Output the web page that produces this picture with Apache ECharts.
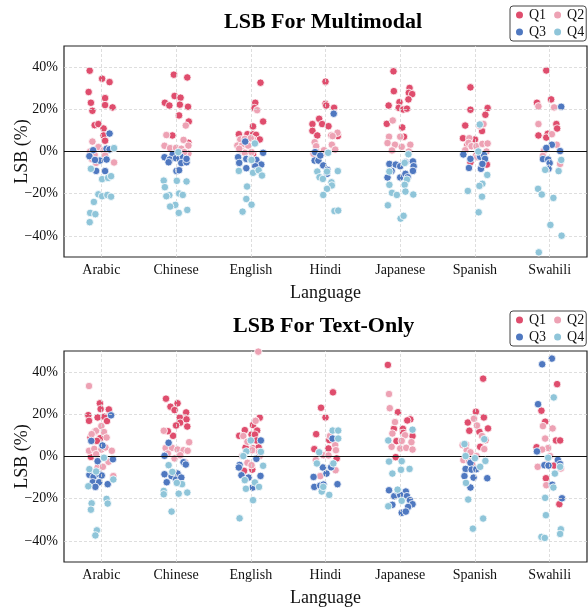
<!DOCTYPE html>
<html>
<head>
<meta charset="utf-8">
<script src="https://cdn.jsdelivr.net/npm/echarts@6/dist/echarts.min.js"></script>
<style>html,body{margin:0;padding:0;background:#fff}#chart{width:588px;height:608px}</style>
</head>
<body>
<div id="chart"></div>
<script>
const languages = ['Arabic','Chinese','English','Hindi','Japanese','Spanish','Swahili'];
const quarters = ['Q1','Q2','Q3','Q4'];
const yTicks = [-40,-20,0,20,40];
const titles = ['LSB For Multimodal','LSB For Text-Only'];

// Each list: one inner list per language, points as [jitter, value %]
const mmQ1 = [
 [[-0.156,38.3],[0.01,34.5],[0.11,32.9],[-0.17,28.2],[0.05,25.3],[-0.14,23.1],[0.05,22.0],[0.15,20.9],[-0.12,19.3],[-0.09,12.5],[-0.04,13.0],[0.03,10.9],[0.03,7.6],[0.05,5.1]],
 [[-0.03,36.4],[0.15,35.1],[-0.15,23.1],[-0.09,21.8],[-0.02,26.3],[0.06,25.5],[0.05,22.2],[0.16,21.2],[0.04,17.1],[0.17,14.2],[-0.05,7.6],[0.165,4.1]],
 [[0.13,32.6],[0.06,23.1],[0.05,20.6],[0.165,14.2],[0.03,11.9],[-0.16,8.2],[-0.045,8.2],[0.03,8.2],[0.07,7.9],[0.12,5.7],[0.03,-1.3]],
 [[0,33.1],[0,22.6],[0.01,21.8],[0.115,20.7],[-0.085,15.5],[-0.175,13],[-0.045,13],[0.04,12],[-0.175,9.8],[-0.11,7.6],[0.08,7.6],[0.165,7.3]],
 [[-0.09,38],[-0.085,28.6],[0.125,30.1],[0.115,27.8],[0.16,27.2],[0.11,24.7],[-0.155,21.8],[-0.01,23.4],[-0.02,20.7],[0.04,19.9],[0.09,20.3],[-0.18,13.1],[0.027,11.4],[0.05,7]],
 [[-0.06,30.4],[-0.06,19.8],[0.17,20.6],[0.14,17.4],[-0.13,12.3],[0.095,9.7],[-0.16,6.3],[0,5.7],[-0.1,3.2],[-0.06,-5.1],[0.16,-6.2],[0.02,-1.9]],
 [[-0.045,38.4],[-0.17,23.1],[0.02,24.7],[0.09,13],[0.1,10.9],[-0.025,8.4],[-0.15,7.6],[-0.045,6.6]]
];
const mmQ2 = [
 [[-0.12,4.7],[-0.04,2.1],[-0.15,0],[0.03,0.6],[-0.09,-1.6],[-0.07,-5.4],[0.17,-5.2],[-0.13,-3.5],[0.05,-1.9]],
 [[-0.13,7.8],[0.13,12.3],[0.1,5.5],[-0.155,2.7],[-0.08,1.6],[0,1.7],[0.07,1.3],[0.165,2.8],[0.165,-1],[0.11,-0.3],[-0.06,-3]],
 [[0.085,19.6],[0.03,5.7],[-0.14,5.7],[-0.08,6],[0,6.3],[-0.18,2.8],[-0.12,2.8],[-0.035,2.8],[-0.13,0.5],[-0.08,-0.6],[0.01,-0.3],[-0.155,1.3]],
 [[0.16,8.9],[0.095,7.3],[0.085,3.2],[-0.145,4.4],[-0.125,2.5],[0.13,0.9],[-0.115,-0.3],[-0.05,-1.1],[-0.16,-1.1],[-0.02,0.6]],
 [[-0.1,14.7],[-0.15,7],[0,7],[-0.17,4],[-0.07,3.2],[0.02,2.2],[0.135,3.2],[-0.11,0.5],[0.115,0]],
 [[0.06,12.2],[0.115,13],[-0.075,6.3],[-0.085,4.1],[-0.045,2.5],[0.02,2.5],[0.1,3.6],[0.17,3.8],[-0.13,0.6],[0.03,-2.7],[0.155,0]],
 [[-0.15,21.4],[0.06,20.9],[-0.15,13],[0.03,8.2],[0.095,3.2],[-0.075,0.3],[-0.09,-2.1],[0.14,-5.9]]
];
const mmQ3 = [
 [[0.11,8.5],[-0.11,0.6],[0.07,1.3],[0.11,1.0],[-0.02,-4.3],[0.07,-3.8],[-0.07,-9.2],[0.05,-9.3],[-0.16,-2.2],[-0.085,-4]],
 [[-0.155,-2.7],[-0.045,-1.3],[0.06,-2.4],[-0.085,-3.8],[0,-3.2],[0.07,-5.5],[0.14,-5.1],[0.14,-3.5],[0.005,-9.2],[0.04,-8.9],[-0.1,-5.1]],
 [[-0.075,4.7],[-0.17,-2.7],[-0.155,-5.4],[-0.06,-3.5],[0,-3.8],[0.075,-4],[0.165,-0.6],[0.14,-6.2],[-0.06,-7.9],[0.06,-7]],
 [[0.11,17.9],[-0.14,-0.3],[-0.145,-4.3],[-0.095,-4.3],[-0.03,-6.6],[0.025,-8.7],[0.02,-10.6],[-0.07,-1.9]],
 [[-0.145,-5.9],[-0.06,-6.2],[0,-7],[0.07,-5.1],[0.17,-4.7],[0.18,-7],[0.17,-9.2],[-0.115,-9.2],[-0.17,-12.3],[0,-12.3],[0.07,-10.6],[0.1,-12.2]],
 [[-0.155,-1.4],[-0.06,-3.5],[0.07,-2.5],[0.12,-1.6],[0.135,-3.5],[-0.08,-7.8],[0.08,-8.2],[0.1,-5.9]],
 [[0.155,21.2],[0.03,3.2],[-0.045,1.7],[0.14,0.2],[-0.09,-3.6],[-0.02,-3.8],[0,-5.5],[-0.015,-8.2]]
];
const mmQ4 = [
 [[0.17,1.6],[-0.14,-8.2],[0.01,-13.1],[0.09,-12.5],[0.13,-11.7],[-0.04,-20.3],[0.01,-21.2],[0.08,-20.6],[0.13,-21.4],[-0.1,-23.9],[-0.15,-29.1],[-0.08,-29.7],[-0.156,-33.5]],
 [[0.03,-0.3],[-0.165,-13.8],[-0.15,-16.9],[0.01,-13.9],[0.14,-14.2],[0.04,-19.9],[0.09,-20.6],[-0.09,-20.7],[-0.13,-21.2],[-0.01,-25.3],[-0.08,-26.1],[0.036,-29.1],[0.15,-27.7]],
 [[0.055,3.8],[0.01,-4],[-0.16,-9.2],[0.055,-9.5],[0.03,-10.1],[0.105,-8.9],[0.15,-11.4],[-0.05,-16.6],[-0.06,-22.5],[0.01,-25.2],[-0.11,-28.5]],
 [[0.035,-0.6],[-0.11,-9.5],[0.02,-9.5],[0.165,-9.3],[-0.08,-12.2],[-0.035,-13],[0.08,-14.6],[0.085,-16.1],[0.02,-17.7],[-0.03,-20.6],[0.12,-28.2],[0.17,-28]],
 [[0.11,-1.3],[0.06,-5.4],[-0.145,-9.5],[0.09,-13.3],[-0.145,-15.8],[0.06,-15.8],[-0.11,-19.6],[-0.045,-20.6],[0.07,-19],[0.175,-20.4],[-0.165,-25.5],[0.005,-31.8],[0.045,-30.5]],
 [[0.065,12.8],[0.045,0],[0.165,-11.1],[0.1,-15.3],[0.06,-16.3],[0.095,-21.4],[-0.095,-18.7],[0.05,-28.8]],
 [[0.155,-4],[-0.06,-8.7],[0.12,-9.3],[-0.155,-17.7],[-0.105,-20.4],[0.05,-22],[0.01,-34.8],[0.16,-39.9],[-0.145,-47.8]]
];
const txQ1 = [
 [[-0.02,25.2],[-0.175,19.6],[-0.165,16.9],[-0.01,22.5],[0.1,22.3],[-0.05,18.5],[0.04,18.8],[0.075,16.8],[-0.085,11.7],[-0.145,9],[-0.015,8.7],[-0.06,7.4],[-0.14,-0.2]],
 [[-0.135,27.4],[0.02,25.2],[-0.075,23.6],[-0.02,22],[0.135,20.9],[0.05,18.5],[0.055,16],[0.14,17.6],[0,14.7],[0.15,14.2],[-0.04,9.8],[-0.11,12]],
 [[0.12,18.4],[0.03,14.9],[0.085,12.3],[-0.08,12.5],[-0.155,9.8],[0.01,10.4],[0.055,10.4],[-0.07,4.3],[0.03,3.8],[0.105,4.3],[0.075,7.6],[0.02,-6.2],[-0.09,-6.8]],
 [[0.1,30.4],[-0.06,23.1],[0,18.5],[-0.125,10.6],[-0.15,3.5],[0.05,7.8],[0.15,-0.9],[0.04,3.8]],
 [[-0.165,43.4],[-0.03,21],[0.135,17.6],[-0.085,13.1],[0.035,13.1],[-0.05,7.3],[0.04,11.2],[0.165,9.7],[-0.06,-0.3],[0.095,17.1]],
 [[0.11,36.9],[0.013,21.2],[0.12,18.5],[-0.095,16.1],[0.175,13.3],[-0.075,12.2],[0.06,11.7],[0.07,4.6],[0.14,7.8],[-0.045,-3.3]],
 [[0.1,34.3],[-0.11,21.7],[-0.06,16.5],[0.085,7.6],[0.14,7.6],[-0.175,4.4],[0.06,-4.3],[-0.05,-10.3],[0.13,-22.6]]
];
const txQ2 = [
 [[-0.165,33.4],[-0.07,12.2],[0,14.4],[0.035,11.6],[0.07,9],[-0.13,10.6],[-0.165,2.7],[-0.095,3.6],[0,3.3],[0.055,4.3],[0.14,2.7],[-0.07,1.1],[0.095,-2.5],[-0.05,-5.2],[0.02,-4.9],[0.16,-9.3]],
 [[-0.165,12.2],[0.175,6.8],[-0.14,4],[-0.055,4.1],[0.02,3.3],[0.1,3],[0.155,2.7],[-0.11,1.4],[-0.02,-0.9],[0.055,0.6],[0.12,-2.7]],
 [[0.1,49.7],[0.065,16.9],[-0.1,9.7],[-0.045,7],[0.02,3],[0.11,2.2],[-0.115,0.2],[-0.045,-3],[0.01,-4.1],[0.12,0.2]],
 [[0.06,9.7],[0.13,5.4],[0.14,3],[-0.027,0.6],[0.04,0.5],[-0.07,-9.3],[0.135,-6.5],[-0.13,-1.7],[0.095,-3.6]],
 [[-0.15,29.6],[-0.14,22.9],[-0.07,16.3],[-0.105,10.9],[0.065,10.1],[0.15,6.8],[-0.115,4.6],[0,3.8],[0.08,4.1],[0.165,3.3],[0.02,7.4]],
 [[-0.013,17.9],[0.027,14.7],[0.095,9.7],[0.125,3.5],[-0.12,5.7],[-0.165,5.4],[-0.11,3],[-0.06,2],[0.022,0.2],[-0.155,-1.7],[-0.08,-2.1]],
 [[-0.09,14.4],[0.04,13.3],[-0.06,8.5],[-0.02,4],[-0.1,3.3],[0.005,0.2],[-0.16,-4.9],[-0.04,-3.6],[-0.045,-13.6],[0.15,-5.7]]
];
const txQ3 = [
 [[0.13,19.5],[-0.135,7.4],[0.015,5.2],[-0.05,-2.2],[0.155,-1.3],[-0.16,-8.7],[-0.105,-9.7],[-0.03,-8.4],[0.005,-9],[-0.115,-12.2],[-0.03,-12.2],[-0.08,-14.4],[0.085,-13.1]],
 [[-0.1,6.5],[-0.155,0.3],[0.1,-2.7],[0.13,-3.8],[-0.155,-8.4],[-0.06,-9.3],[0.02,-8.1],[0,-10.9],[0.07,-10],[-0.125,-12.2]],
 [[0.135,7.6],[0.075,-1.1],[-0.15,-4],[-0.16,-5.2],[-0.125,-8.9],[-0.03,-10],[0.13,-9.2],[0.025,-14.7]],
 [[0.095,8.5],[-0.16,-9.7],[-0.035,-5.2],[0.075,-5.1],[0.013,-8.1],[-0.15,-14.4],[-0.07,-13.8],[-0.027,-13.3],[0.16,-13.1]],
 [[-0.15,-16],[-0.08,-18.8],[-0.035,-16.3],[0.075,-16.6],[0,-18.2],[0.09,-18.8],[0.13,-20.7],[0.165,-22.6],[0.105,-23.9],[0.02,-26.7],[0.075,-26.1],[-0.105,-22.9]],
 [[-0.06,-3],[-0.125,-5.9],[-0.045,-6.2],[0.018,-6],[-0.14,-9.3],[-0.018,-10],[-0.06,-14.7],[0.165,-10.3]],
 [[0.03,46.4],[-0.1,43.7],[-0.155,24.8],[-0.17,2.4],[0.11,-1.6],[-0.07,-4.1],[-0.015,-4.3],[0.14,-3.6],[0.035,-13.4],[0.165,-19.8]]
];
const txQ4 = [
 [[0.035,-0.6],[-0.16,-6],[-0.07,-7.1],[-0.175,-14.1],[0.16,-10.9],[0.07,-20.1],[0.085,-22.3],[-0.13,-22.2],[-0.14,-25.2],[-0.06,-35],[-0.08,-37.4]],
 [[-0.1,-4.1],[-0.05,-7.3],[-0.165,-16.3],[-0.165,-17.9],[0.035,-17.6],[0.15,-17.1],[0.08,-13.1],[-0.06,-26.1],[0.01,-12.5]],
 [[0,7.6],[-0.06,2.4],[0.135,2.2],[-0.1,0.2],[0.165,-4.4],[-0.08,-11.2],[0.055,-12.3],[0.11,-14.4],[-0.065,-15.3],[0.03,-20.7],[-0.15,-29.3]],
 [[0.095,12.3],[0.17,12.3],[0.17,8.5],[-0.085,2],[-0.115,-3.3],[0.105,-3.3],[-0.05,-16.6],[0.05,-18.2],[-0.03,-14.4]],
 [[0.165,12.7],[-0.16,7.6],[-0.15,-2.4],[0.02,-2.2],[-0.105,-8.1],[0.01,-6.3],[0.125,-5.9],[-0.035,-15.7],[0.02,-21],[-0.16,-23.6]],
 [[0.125,8.2],[-0.14,5.9],[-0.125,0.2],[0,-0.8],[0.14,-2.1],[0.07,-4.9],[-0.12,-12.5],[-0.09,-20.4],[0.11,-29.4],[-0.027,-34.2]],
 [[0.055,28],[-0.02,-0.6],[0.14,-4.9],[0.07,-8.1],[0.05,-14.7],[-0.06,-19.6],[-0.05,-27.8],[0.15,-34.5],[0.14,-36.7],[-0.11,-38.1],[-0.065,-38.6]]
];

const colors = ['#df4d6d','#eda2b4','#4f78c0','#8fc5d9'];
const panels = [[mmQ1,mmQ2,mmQ3,mmQ4],[txQ1,txQ2,txQ3,txQ4]];
const FONT = "'Liberation Serif','Times New Roman',serif";

const gridTops = [46, 351];
const grids = gridTops.map(t => ({left:64, right:1, top:t, height:211, show:true, borderColor:'#222', borderWidth:1.2, backgroundColor:'transparent', outerBoundsMode:'none', containLabel:false}));

const xAxes = gridTops.map((t,i) => ({
  type:'value', gridIndex:i, min:-0.5, max:6.5,
  name:'Language', nameLocation:'middle', nameGap:27, nameMoveOverlap:false,
  nameTextStyle:{fontFamily:FONT, fontSize:18, color:'#111'},
  axisLine:{show:false},
  axisTick:{show:false, customValues:languages.map((_,k)=>k)},
  axisLabel:{customValues:languages.map((_,k)=>k), formatter:v=>languages[Math.round(v)], fontFamily:FONT, fontSize:14, color:'#111', margin:6},
  splitLine:{show:false}
}));
const yAxes = gridTops.map((t,i) => ({
  type:'value', gridIndex:i, min:-50, max:50,
  name:'LSB (%)', nameLocation:'middle', nameGap:33, nameMoveOverlap:false,
  nameTextStyle:{fontFamily:FONT, fontSize:18, color:'#111'},
  axisLine:{show:false},
  axisTick:{show:false, customValues:yTicks},
  axisLabel:{customValues:yTicks, formatter:v=> (v<0?'\u2212'+Math.abs(v):v)+'%', fontFamily:FONT, fontSize:14, color:'#111', margin:6},
  splitLine:{show:false}
}));

const gridLineStyle = {color:'#d6d6d6', width:0.8, type:[3,2]};
const series = [];
panels.forEach((qs, pi) => {
  series.push({type:'line', xAxisIndex:pi, yAxisIndex:pi, data:[], z:1, silent:true,
    markLine:{silent:true, symbol:'none', label:{show:false}, animation:false,
      data: languages.map((_,k)=>({xAxis:k, lineStyle:gridLineStyle}))
        .concat(yTicks.filter(v=>v!==0).map(v=>({yAxis:v, lineStyle:gridLineStyle})))
        .concat([{yAxis:0, lineStyle:{color:'#111', width:1.2, type:'solid'}}])
    }});
  qs.forEach((q, qi) => {
    series.push({
      type:'scatter', name:quarters[qi], xAxisIndex:pi, yAxisIndex:pi, z:2+qi,
      symbolSize:7.5,
      itemStyle:{color:colors[qi], borderColor:'#fff', borderWidth:0.8, opacity:1},
      data: q.flatMap((pts, li) => pts.map(([j,v]) => [li + j, v]))
    });
  });
});

const legendText = {fontFamily:FONT, fontSize:14, color:'#111'};
const legends = [];
gridTops.forEach(t => {
  legends.push({left:510, top:t-40, itemWidth:9, itemHeight:9, itemGap:6, icon:'circle',
    padding:[2,2,19,4], borderColor:'#444', borderWidth:1, borderRadius:3, backgroundColor:'#fff',
    textStyle:legendText, data:['Q1','Q2'], z:4});
  legends.push({left:510, top:t-23, itemWidth:9, itemHeight:9, itemGap:6, icon:'circle',
    padding:[2,2,2,4], backgroundColor:'transparent', textStyle:legendText, data:['Q3','Q4'], z:5});
});

const chart = echarts.init(document.getElementById('chart'), null, {renderer:'canvas'});
chart.setOption({
  animation:false,
  backgroundColor:'#fff',
  title: [
    {text:titles[0], left:224, top:11, padding:0, textStyle:{fontFamily:FONT, fontSize:22, fontWeight:'bold', color:'#000'}},
    {text:titles[1], left:233, top:315, padding:0, textStyle:{fontFamily:FONT, fontSize:22, fontWeight:'bold', color:'#000'}}
  ],
  legend: legends,
  grid: grids,
  xAxis: xAxes,
  yAxis: yAxes,
  series: series
});
</script>
</body>
</html>
